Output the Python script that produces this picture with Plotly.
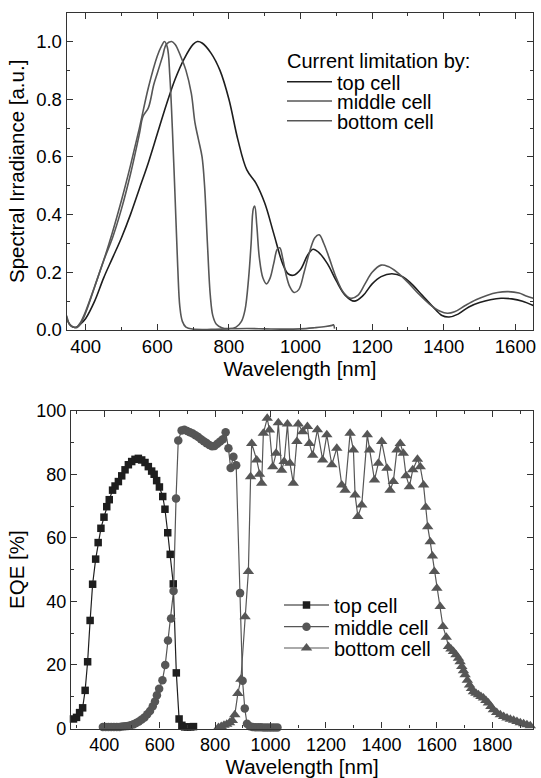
import plotly.graph_objects as go

# ---------------- Top panel: spectral irradiance ----------------
wl_top = [347, 355, 365, 375, 385, 400, 425, 450, 475, 500, 525, 550, 575, 600, 625, 650, 675, 700, 712,
          725, 750, 775, 800, 825, 850, 875, 900, 925, 950, 965, 980, 1000, 1020, 1035, 1050, 1075, 1100,
          1125, 1150, 1175, 1200, 1225, 1255, 1285, 1310, 1340, 1370, 1395, 1415, 1440, 1470, 1500, 1530,
          1560, 1590, 1620, 1650]
irr_top = [0.04, 0.02, 0.01, 0.01, 0.02, 0.04, 0.10, 0.18, 0.25, 0.32, 0.40, 0.49, 0.58, 0.68, 0.78, 0.87,
           0.94, 0.99, 1.0, 0.995, 0.96, 0.90, 0.80, 0.66, 0.555, 0.51, 0.44, 0.335, 0.23, 0.195, 0.19, 0.21,
           0.26, 0.28, 0.27, 0.23, 0.17, 0.12, 0.10, 0.12, 0.16, 0.185, 0.195, 0.185, 0.16, 0.12, 0.08, 0.05,
           0.045, 0.055, 0.08, 0.095, 0.105, 0.11, 0.108, 0.10, 0.085]

wl_mid = [347, 355, 365, 375, 385, 400, 425, 450, 475, 500, 525, 550, 560, 575, 590, 600, 615, 625, 640,
          650, 665, 680, 695, 705, 715, 725, 732, 740, 748, 755, 765, 780, 800, 820, 835, 845, 855, 862,
          868, 872, 878, 885, 895, 905, 915, 925, 935, 942, 950, 960, 970, 982, 995, 1010, 1025, 1040, 1052,
          1065, 1080, 1100, 1120, 1140, 1160, 1180, 1200, 1225, 1245, 1270, 1300, 1330, 1360, 1390, 1410,
          1430, 1460, 1490, 1520, 1550, 1580, 1610, 1630, 1650]
irr_mid = [0.05, 0.02, 0.01, 0.008, 0.02, 0.06, 0.15, 0.24, 0.32, 0.42, 0.54, 0.68, 0.74, 0.77, 0.85, 0.89,
           0.95, 0.99, 1.0, 0.99, 0.95, 0.90, 0.82, 0.72, 0.66, 0.60, 0.50, 0.30, 0.12, 0.05, 0.02, 0.008,
           0.005, 0.01, 0.03, 0.07, 0.18, 0.30, 0.42, 0.43, 0.36, 0.25, 0.18, 0.16, 0.18, 0.23, 0.28, 0.285,
           0.25, 0.19, 0.15, 0.13, 0.14, 0.20, 0.27, 0.32, 0.33, 0.30, 0.25, 0.18, 0.13, 0.11, 0.12, 0.16,
           0.20, 0.225, 0.22, 0.20, 0.165, 0.125, 0.09, 0.065, 0.058, 0.063, 0.085, 0.105, 0.12, 0.13, 0.133,
           0.128, 0.118, 0.11]

wl_bot = [347, 355, 365, 375, 385, 400, 425, 450, 475, 500, 525, 550, 575, 600, 612, 620, 628, 635, 642,
          650, 657, 663, 670, 680, 700, 750, 800, 850, 900, 950, 1000, 1040, 1070, 1088, 1092, 1095]
irr_bot = [0.04, 0.02, 0.01, 0.01, 0.025, 0.065, 0.15, 0.24, 0.34, 0.45, 0.57, 0.70, 0.84, 0.95, 0.985, 1.0,
           0.98, 0.88, 0.70, 0.45, 0.22, 0.08, 0.03, 0.01, 0.003, 0.002, 0.004, 0.005, 0.004, 0.003, 0.004,
           0.008, 0.012, 0.016, 0.018, 0.005]

# ---------------- Bottom panel: EQE ----------------
wl_eqe_top = [289, 300, 311, 322, 331, 340, 349, 358, 369, 378, 388, 399, 409, 418, 430, 439, 451, 463, 475,
              487, 499, 511, 523, 535, 547, 559, 571, 580, 589, 599, 611, 619, 629, 638, 649, 660, 670, 680,
              690, 700, 712, 722]
eqe_top = [3, 3.5, 5, 6.5, 12, 21, 34, 45.4, 53.3, 58.5, 63, 66.5, 69.8, 72, 75, 76.3, 77.7, 79.5, 81.4, 83,
           84, 84.7, 85, 84.5, 83.7, 82.4, 81, 80, 78, 76, 73, 69, 61.6, 54.8, 45.5, 17.5, 3, 1, 0.5, 0.5,
           0.5, 0.6]

wl_eqe_mid = [395, 405, 415, 425, 435, 445, 455, 465, 475, 485, 495, 505, 515, 525, 535, 545, 555, 565, 575,
              583, 590, 598, 610, 620, 630, 641, 650, 659, 667, 679, 689, 699, 709, 719, 729, 739, 749, 759,
              769, 779, 789, 798, 808, 818, 828, 838, 848, 856, 866, 876, 890, 899, 907, 915, 925, 935, 945,
              955, 965, 975, 985, 995, 1005, 1015, 1025]
eqe_mid = [0.5, 0.5, 0.5, 0.5, 0.5, 0.5, 0.5, 0.6, 0.7, 0.8, 1.0, 1.3, 1.7, 2.2, 2.8, 3.5, 4.5, 5.5, 7.0,
           8.5, 10.5, 12.5, 15.2, 20, 27.7, 34.6, 43.3, 72.4, 90.6, 93.8, 94, 93.6, 93.2, 92.8, 92.3, 91.7,
           91, 90.4, 89.8, 89.2, 88.8, 88.9, 89.6, 90.3, 91, 93.2, 88.2, 82, 85.5, 82.8, 42.6, 15, 6.3, 1.5,
           0.7, 0.5, 0.4, 0.4, 0.4, 0.3, 0.3, 0.3, 0.3, 0.3, 0.3]

wl_eqe_bot = [812, 822, 832, 842, 852, 862, 871, 882, 893, 908, 920, 928, 932, 950, 960, 968, 974, 988, 996,
              1008, 1020, 1028, 1040, 1049, 1061, 1070, 1082, 1095, 1100, 1116, 1133, 1140, 1152, 1169, 1188,
              1203, 1221, 1239, 1257, 1269, 1287, 1299, 1305, 1315, 1329, 1349, 1357, 1375, 1389, 1401, 1420,
              1431, 1443, 1456, 1468, 1479, 1489, 1501, 1513, 1530, 1540, 1552, 1560, 1567, 1576, 1584, 1591,
              1600, 1612, 1622, 1634, 1642, 1651, 1660, 1669, 1678, 1684, 1690, 1696, 1702, 1710, 1718, 1725,
              1732, 1741, 1750, 1759, 1768, 1777, 1786, 1795, 1804, 1816, 1829, 1841, 1853, 1865, 1877, 1889,
              1901, 1913, 1925, 1937, 1949]
eqe_bot = [0.3, 0.6, 1.0, 1.3, 1.8, 2.5, 4.3, 11, 15.5, 35.2, 49.4, 79.2, 89.7, 84.5, 80, 77.2, 92.9, 97.6,
           93.9, 82.4, 86.6, 96.2, 81.3, 84, 95.8, 83.5, 77.2, 90.3, 95.8, 93.4, 95, 89.7, 86, 94, 84.5, 92.4,
           83, 88.2, 76.6, 75, 92.9, 87.6, 73.5, 66.7, 70.3, 92.4, 87.6, 78.2, 83.5, 90.3, 81.9, 75, 77.7,
           87.6, 89.7, 86.6, 79.5, 76.1, 81.4, 84.7, 82.4, 76.6, 69.6, 63.5, 58.8, 54.3, 49.4, 44.1, 38.4,
           32.1, 28.7, 25.8, 25.0, 24.2, 23.2, 22.1, 21.0, 19.5, 18.2, 16.9, 15.2, 13.7, 12.6, 11.6, 11.1,
           10.6, 10.1, 9.6, 8.8, 8.0, 6.9, 5.9, 5.0, 4.3, 3.8, 3.3, 2.9, 2.6, 2.2, 1.8, 1.5, 1.2, 0.9, 0.6]

legend_title_top = "Current limitation by:"
names = ["top cell", "middle cell", "bottom cell"]

DARK = "#1e1e1e"
GRAY = "#565656"
FONT = "Liberation Sans, Arial, sans-serif"

W, H = 541, 778
ML, MR, MT, MB = 60, 5, 10, 45
PW, PH = W - ML - MR, H - MT - MB


def px_x(p):
    return (p - ML) / PW


def px_y(p):
    return (H - MB - p) / PH


fig = go.Figure()

fig.add_trace(go.Scatter(x=wl_top, y=irr_top, mode="lines", name=names[0], line=dict(color=DARK, width=1.6),
                         xaxis="x", yaxis="y", legend="legend", line_shape="spline"))
fig.add_trace(go.Scatter(x=wl_mid, y=irr_mid, mode="lines", name=names[1], line=dict(color=GRAY, width=1.6),
                         xaxis="x", yaxis="y", legend="legend2", line_shape="spline"))
fig.add_trace(go.Scatter(x=wl_bot, y=irr_bot, mode="lines", name=names[2], line=dict(color=GRAY, width=1.6),
                         xaxis="x", yaxis="y", legend="legend3", line_shape="spline"))

fig.add_trace(go.Scatter(x=wl_eqe_top, y=eqe_top, mode="lines+markers", name=names[0],
                         line=dict(color=DARK, width=1.2), marker=dict(symbol="square", size=7.5, color=DARK),
                         xaxis="x2", yaxis="y2", legend="legend4", cliponaxis=False))
fig.add_trace(go.Scatter(x=wl_eqe_mid, y=eqe_mid, mode="lines+markers", name=names[1],
                         line=dict(color=GRAY, width=1.2), marker=dict(symbol="circle", size=8.5, color=GRAY),
                         xaxis="x2", yaxis="y2", legend="legend5", cliponaxis=False))
fig.add_trace(go.Scatter(x=wl_eqe_bot, y=eqe_bot, mode="lines+markers", name=names[2],
                         line=dict(color=GRAY, width=1.2), marker=dict(symbol="triangle-up", size=10, color=GRAY),
                         xaxis="x2", yaxis="y2", legend="legend6", cliponaxis=False))

TC = "#333333"


def axis(size, **kw):
    d = dict(showline=True, mirror="allticks", linecolor=TC, linewidth=1.2,
             ticks="inside", ticklen=6, tickcolor=TC, tickwidth=1,
             showgrid=False, zeroline=False, automargin=False, fixedrange=True,
             tickfont=dict(family=FONT, size=size, color="black"))
    d.update(kw)
    return d


TITLE_FONT = dict(family=FONT, size=20.5, color="black")

fig.update_layout(
    width=W, height=H, template="none",
    margin=dict(l=ML, r=MR, t=MT, b=MB),
    paper_bgcolor="white", plot_bgcolor="white",
    font=dict(family=FONT, color="black"),
    showlegend=True, hovermode=False,
    xaxis=axis(18.5, domain=[px_x(66.7), px_x(533.3)], anchor="y", range=[347, 1650], dtick=200, tick0=0,
               minor=dict(ticks="inside", dtick=100, ticklen=3, tickcolor=TC),
               title=dict(text="Wavelength [nm]", font=TITLE_FONT, standoff=2)),
    yaxis=axis(18.5, domain=[px_y(330), px_y(12.7)], anchor="x", range=[0, 1.1], dtick=0.2, tick0=0,
               tickformat=".1f",
               minor=dict(ticks="inside", dtick=0.1, ticklen=3, tickcolor=TC),
               title=dict(text="Spectral Irradiance [a.u.]", font=TITLE_FONT, standoff=6)),
    xaxis2=axis(18, domain=[px_x(71), px_x(533.3)], anchor="y2", range=[280, 1948], dtick=200, tick0=0,
                minor=dict(ticks="inside", dtick=100, ticklen=3, tickcolor=TC),
                title=dict(text="Wavelength [nm]", font=TITLE_FONT, standoff=0)),
    yaxis2=axis(18, domain=[px_y(728.5), px_y(410.7)], anchor="x2", range=[0, 100], dtick=20, tick0=0,
                minor=dict(ticks="inside", dtick=10, ticklen=3, tickcolor=TC),
                title=dict(text="EQE [%]", font=TITLE_FONT, standoff=6)),
    annotations=[dict(text=legend_title_top, xref="paper", yref="paper", x=px_x(285), y=px_y(60.7),
                      xanchor="left", yanchor="middle", showarrow=False,
                      font=dict(family=FONT, size=20, color="black"))],
)

LEG_FONT = dict(family=FONT, size=20, color="black")
top_rows = [81.7, 101, 120.7]
bot_rows = [605, 626.7, 648]
for i, yy in enumerate(top_rows):
    key = "legend" if i == 0 else f"legend{i + 1}"
    fig.update_layout({key: dict(x=px_x(282), y=px_y(yy), xanchor="left", yanchor="middle",
                                 bgcolor="rgba(0,0,0,0)", font=LEG_FONT, itemwidth=45, borderwidth=0,
                                 itemclick=False, itemdoubleclick=False)})
for i, yy in enumerate(bot_rows):
    key = f"legend{i + 4}"
    fig.update_layout({key: dict(x=px_x(279), y=px_y(yy), xanchor="left", yanchor="middle",
                                 bgcolor="rgba(0,0,0,0)", font=LEG_FONT, itemwidth=45, borderwidth=0,
                                 itemclick=False, itemdoubleclick=False)})

# remove the browser's default 8px page margin so the figure sits at the window origin
fig.write_html("out.html", config={"displayModeBar": False, "staticPlot": False},
               post_script="document.body.style.margin='0';")
